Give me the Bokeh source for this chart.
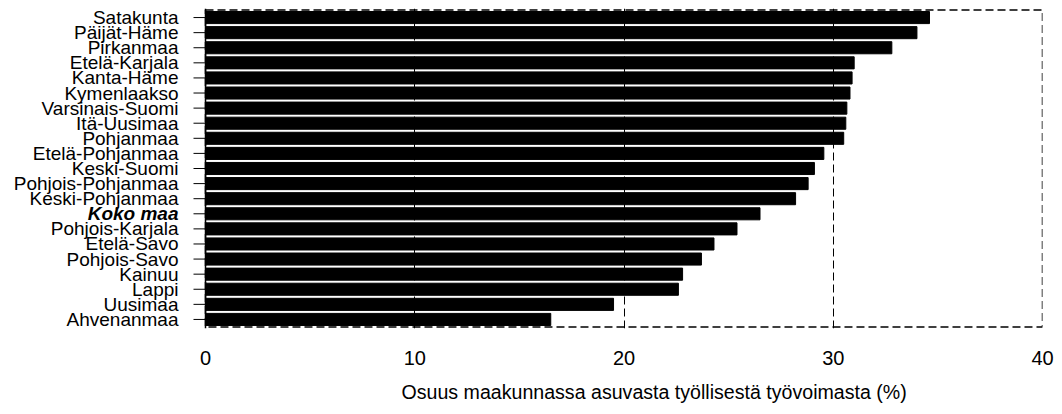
from bokeh.plotting import figure
from bokeh.models import (FactorRange, Range1d, FixedTicker, ColumnDataSource,
                          BoxAnnotation, Span, Title)
from bokeh.core.properties import value
from bokeh.embed import file_html
from bokeh.resources import INLINE

regions = ["Satakunta", "Päijät-Häme", "Pirkanmaa", "Etelä-Karjala", "Kanta-Häme",
           "Kymenlaakso", "Varsinais-Suomi", "Itä-Uusimaa", "Pohjanmaa", "Etelä-Pohjanmaa",
           "Keski-Suomi", "Pohjois-Pohjanmaa", "Keski-Pohjanmaa", "Koko maa",
           "Pohjois-Karjala", "Etelä-Savo", "Pohjois-Savo", "Kainuu", "Lappi",
           "Uusimaa", "Ahvenanmaa"]
shares = [34.6, 34.0, 32.8, 31.0, 30.9, 30.8, 30.65, 30.6, 30.5, 29.55,
          29.1, 28.8, 28.2, 26.5, 25.4, 24.3, 23.7, 22.8, 22.6, 19.5, 16.5]
x_ticks = [0, 10, 20, 30, 40]
x_title = "Osuus maakunnassa asuvasta työllisestä työvoimasta (%)"
highlight = "Koko maa"

FONT = "Liberation Sans"
W, H = 1062, 414
LABEL_AREA = 205      # px left of the value axis reserved for category labels
RIGHT_PAD = 20
TICK_PX = 12
STANDOFF_PX = 15
TITLE_LEFT = 401      # px from the left edge where the x title starts
X_MAX = x_ticks[-1]

ppu = (W - RIGHT_PAD - LABEL_AREA) / X_MAX          # pixels per data unit
x_start = -LABEL_AREA / ppu

factors = list(reversed(regions))
n = len(factors)
pad = 0.2  # total padding in category units so the dashed frame is not clipped

p = figure(width=W, height=H, output_backend="svg", toolbar_location=None,
           y_range=FactorRange(factors=factors, range_padding=pad / n),
           x_range=Range1d(x_start, X_MAX),
           y_axis_location=None,
           min_border_left=0, min_border_right=RIGHT_PAD,
           min_border_top=8, min_border_bottom=86)
p.outline_line_color = None

src = ColumnDataSource(dict(region=regions, share=shares))
p.hbar(y="region", right="share", left=0, height=0.8, source=src,
       fill_color="black", line_color="black")

# dashed frame around the data area
p.add_layout(BoxAnnotation(left=0, right=X_MAX, bottom=0, top=n,
                           fill_alpha=0, fill_color=None,
                           line_color="black", line_alpha=1.0,
                           line_dash="8 4", line_width=1.5,
                           level="underlay"))
# solid category axis line at x = 0
p.add_layout(Span(location=0, dimension="height", line_color="black",
                  line_alpha=1.0, line_width=1.5))

p.ygrid.grid_line_color = None
p.xgrid.ticker = FixedTicker(ticks=[10, 20, 30])
p.xgrid.grid_line_color = "black"
p.xgrid.grid_line_dash = "8 4"
p.xgrid.grid_line_width = 1

# category ticks and labels
tick_src = ColumnDataSource(dict(region=regions,
                                 x0=[-TICK_PX / ppu] * n, x1=[0.0] * n))
p.segment(x0="x0", x1="x1", y0="region", y1="region", source=tick_src,
          line_color="black", line_width=1)

normal = [r for r in regions if r != highlight]
lab_x = -(TICK_PX + STANDOFF_PX) / ppu
p.text(x=[lab_x] * len(normal), y=normal, text=normal,
       text_align="right", text_baseline="middle",
       text_font=value(FONT), text_font_size="19px", text_color="black")
p.text(x=[lab_x], y=[highlight], text=[highlight],
       text_align="right", text_baseline="middle",
       text_font=value(FONT), text_font_size="19px", text_font_style="bold italic",
       text_color="black")

xa = p.xaxis[0]
xa.ticker = FixedTicker(ticks=x_ticks)
xa.axis_line_color = None
xa.major_tick_line_color = None
xa.minor_tick_line_color = None
xa.major_tick_out = 0
xa.major_tick_in = 0
xa.major_label_standoff = 22
xa.major_label_text_font = FONT
xa.major_label_text_font_size = "20px"
xa.major_label_text_color = "black"

title = Title(text=x_title, align="left", offset=TITLE_LEFT, standoff=22,
              vertical_align="bottom",
              text_font=FONT, text_font_size="19.6px", text_font_style="normal",
              text_color="black")
p.add_layout(title, "below")

open("out.html", "w").write(file_html(p, INLINE))
